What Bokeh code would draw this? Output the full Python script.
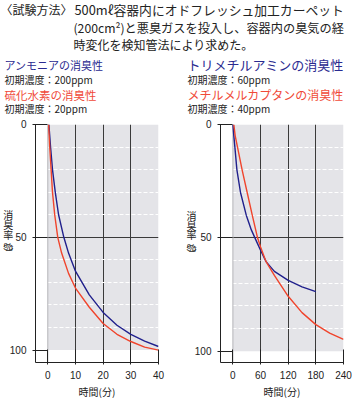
from bokeh.plotting import figure
from bokeh.models import Range1d, FixedTicker, Grid, Label, Span, LinearAxis
from bokeh.layouts import column, row
from bokeh.embed import file_html
from bokeh.resources import INLINE

# ---------------- data ----------------
# left chart: time (min) vs deodorization rate (%)
amm_t = [0.4, 1, 1.7, 2.7, 3.9, 5.8, 7.5, 10, 15, 20, 25, 30, 35, 40]
amm_v = [0, 10, 20, 30, 40, 50, 57, 65, 75.5, 83.3, 89, 93, 96, 98.4]
h2s_t = [0.3, 0.7, 1.2, 1.7, 2.5, 3.6, 5, 7.5, 10, 15, 20, 25, 30, 35, 40]
h2s_v = [0, 10, 20, 30, 40, 50, 57, 66, 72.5, 81, 88.2, 93, 96.2, 98.7, 100]
# right chart
tma_t = [0, 2, 4.3, 8.7, 16.5, 29, 40, 50, 60, 72, 90, 120, 150, 180]
tma_v = [0, 5, 10, 20, 30, 40, 46.5, 51, 55.5, 60.5, 64.8, 68.8, 71.6, 73.7]
mm_t = [2, 5, 10, 20, 31, 42, 53.5, 60, 72, 90, 120, 150, 180, 210, 240]
mm_v = [0, 5, 10, 20, 30, 40, 50, 54, 60.5, 66.6, 75.8, 83, 88.3, 92, 94.8]

left_xticks = [0, 10, 20, 30, 40]
right_xticks = [0, 60, 120, 180, 240]
yticks = [0, 50, 100]
ytick_labels = ["0", "50", "100"]
minor_y = [10, 20, 30, 40, 60, 70, 80, 90]

header_1a = "〈試験方法〉"
header_1b = "500mℓ容器内にオドフレッシュ加工カーペット"
header_2 = "(200cm²)と悪臭ガスを投入し、容器内の臭気の経"
header_3 = "時変化を検知管法により求めた。"
titles_left = ["アンモニアの消臭性", "初期濃度：200ppm", "硫化水素の消臭性", "初期濃度：20ppm"]
titles_right = ["トリメチルアミンの消臭性", "初期濃度：60ppm", "メチルメルカプタンの消臭性", "初期濃度：40ppm"]
xlabel = "時間(分)"
# vertical (tategaki) y-axis title 消臭率(%) written top to bottom
ylabel_chars = ["消", "臭", "率", "︵", "％", "︶"]

BLUE = "#20208c"
RED = "#f0442c"
BLUE_T = "#2a2a90"
RED_T = "#f04a38"
JP = "Noto Sans CJK JP"
NUM = "Liberation Sans"
MIX = "'Liberation Sans', 'Noto Sans CJK JP'"

# ---------------- header ----------------
HDR_H = 115
hdr = figure(width=352, height=HDR_H, x_range=Range1d(0, 352), y_range=Range1d(HDR_H, 0),
             output_backend="svg", toolbar_location=None, min_border=0)
hdr.axis.visible = False
hdr.grid.visible = False
hdr.outline_line_color = None


def hl(x, y, text, size, color="#222222"):
    hdr.add_layout(Label(x=x, y=y, text=text, text_font=JP, text_font_size=f"{size}px",
                         text_color=color, text_baseline="middle", text_align="left"))


hl(0, 9, header_1a, 12)
hl(74, 9, header_1b, 12.8)
hl(73, 27.5, header_2, 12.2)
hl(73, 44, header_3, 12)

hl(4, 64, titles_left[0], 11, BLUE_T)
hl(4, 78.5, titles_left[1], 10)
hl(4, 94, titles_left[2], 11.5, RED_T)
hl(4, 108, titles_left[3], 10)

hl(187, 64, titles_right[0], 13, BLUE_T)
hl(187, 78.5, titles_right[1], 10)
hl(187, 94, titles_right[2], 12, RED_T)
hl(187, 108, titles_right[3], 10)

# ---------------- charts ----------------
FIG_H = 401 - HDR_H
TOP = 9
BOTTOM = 36
FRAME_H = FIG_H - TOP - BOTTOM


def chart(xticks, x_start, y_end, bl, br, series, ylab_y_px, pad):
    x_end = xticks[-1]
    p = figure(width=176, height=FIG_H, x_range=Range1d(x_start, x_end), y_range=Range1d(y_end, 0),
               output_backend="svg", toolbar_location=None,
               min_border_left=bl, min_border_right=br, min_border_top=TOP, min_border_bottom=BOTTOM)
    p.outline_line_color = None
    p.background_fill_color = "white"

    # grey plotting panel
    p.quad(left=xticks[0], right=xticks[-1], bottom=yticks[-1], top=yticks[0],
           fill_color="#e4e4e8", line_color=None, level="image")

    p.xgrid.ticker = FixedTicker(ticks=xticks[1:])
    p.xgrid.grid_line_color = "#3a3a3a"
    p.xgrid.grid_line_width = 1
    p.ygrid.ticker = FixedTicker(ticks=yticks[:2])
    p.ygrid.grid_line_color = "#3a3a3a"
    p.ygrid.grid_line_width = 1
    p.add_layout(Grid(dimension=1, ticker=FixedTicker(ticks=minor_y), grid_line_color="white",
                      grid_line_dash="4 2", grid_line_width=1))
    p.add_layout(Span(location=xticks[0], dimension="height", line_color="#b4b4b8", line_width=1,
                      level="underlay"))

    for xs, ys, c in series:
        p.line(xs, ys, line_color=c, line_width=1.4)

    for ax in (p.xaxis, p.yaxis):
        ax.axis_line_color = "#222222"
        ax.major_tick_line_color = "#222222"
        ax.minor_tick_line_color = None
        ax.major_label_text_font = NUM
        ax.major_label_text_font_size = "10px"
        ax.major_label_text_color = "#222222"
        ax.major_label_standoff = 6

    p.xaxis.ticker = FixedTicker(ticks=xticks)
    p.xaxis.major_tick_in = 13
    p.xaxis.major_tick_out = 2
    p.xaxis.axis_label = xlabel
    p.xaxis.axis_label_text_font = JP
    p.xaxis.axis_label_text_font_size = "10px"
    p.xaxis.axis_label_text_font_style = "normal"
    p.xaxis.axis_label_text_color = "#222222"
    p.xaxis.axis_label_standoff = 2

    # main y axis: line and tick marks (its labels are drawn by the label axis below)
    p.yaxis.ticker = FixedTicker(ticks=yticks)
    p.yaxis.major_tick_in = 12
    p.yaxis.major_tick_out = 3
    p.yaxis.major_label_standoff = 0
    p.yaxis.axis_label_standoff = 0
    p.yaxis.major_label_overrides = {v: "" for v in yticks}

    # label axis: numeric tick labels plus the stacked, upright 消臭率(%) title
    ypu = FRAME_H / y_end
    pos = [round((ypx - HDR_H - TOP) / ypu, 3) for ypx in ylab_y_px]
    overrides = {v: t for v, t in zip(yticks, ytick_labels)}
    overrides.update({v: ch + pad for v, ch in zip(pos, ylabel_chars)})
    lab_axis = LinearAxis(ticker=FixedTicker(ticks=yticks + pos),
                          major_label_overrides=overrides,
                          major_label_orientation="horizontal",
                          axis_line_color=None, major_tick_line_color=None,
                          minor_tick_line_color=None, major_tick_out=0, major_tick_in=0,
                          major_label_standoff=6, axis_label_standoff=0,
                          major_label_text_font=MIX,
                          major_label_text_font_size="10px", major_label_text_color="#222222")
    p.add_layout(lab_axis, "left")
    return p


left = chart(left_xticks, -4.44, 105.5, 35, 18,
             [(amm_t, amm_v, BLUE), (h2s_t, h2s_v, RED)],
             [216, 226, 236, 243, 249, 255], "\u3000\u2004")
right = chart(right_xticks, -26.9, 105.0, 44, 9,
              [(tma_t, tma_v, BLUE), (mm_t, mm_v, RED)],
              [217, 227, 236.5, 244, 250, 256], "\u3000\u2002")

layout = column(hdr, row(left, right, spacing=0), spacing=0)
open("out.html", "w").write(file_html(layout, INLINE))
